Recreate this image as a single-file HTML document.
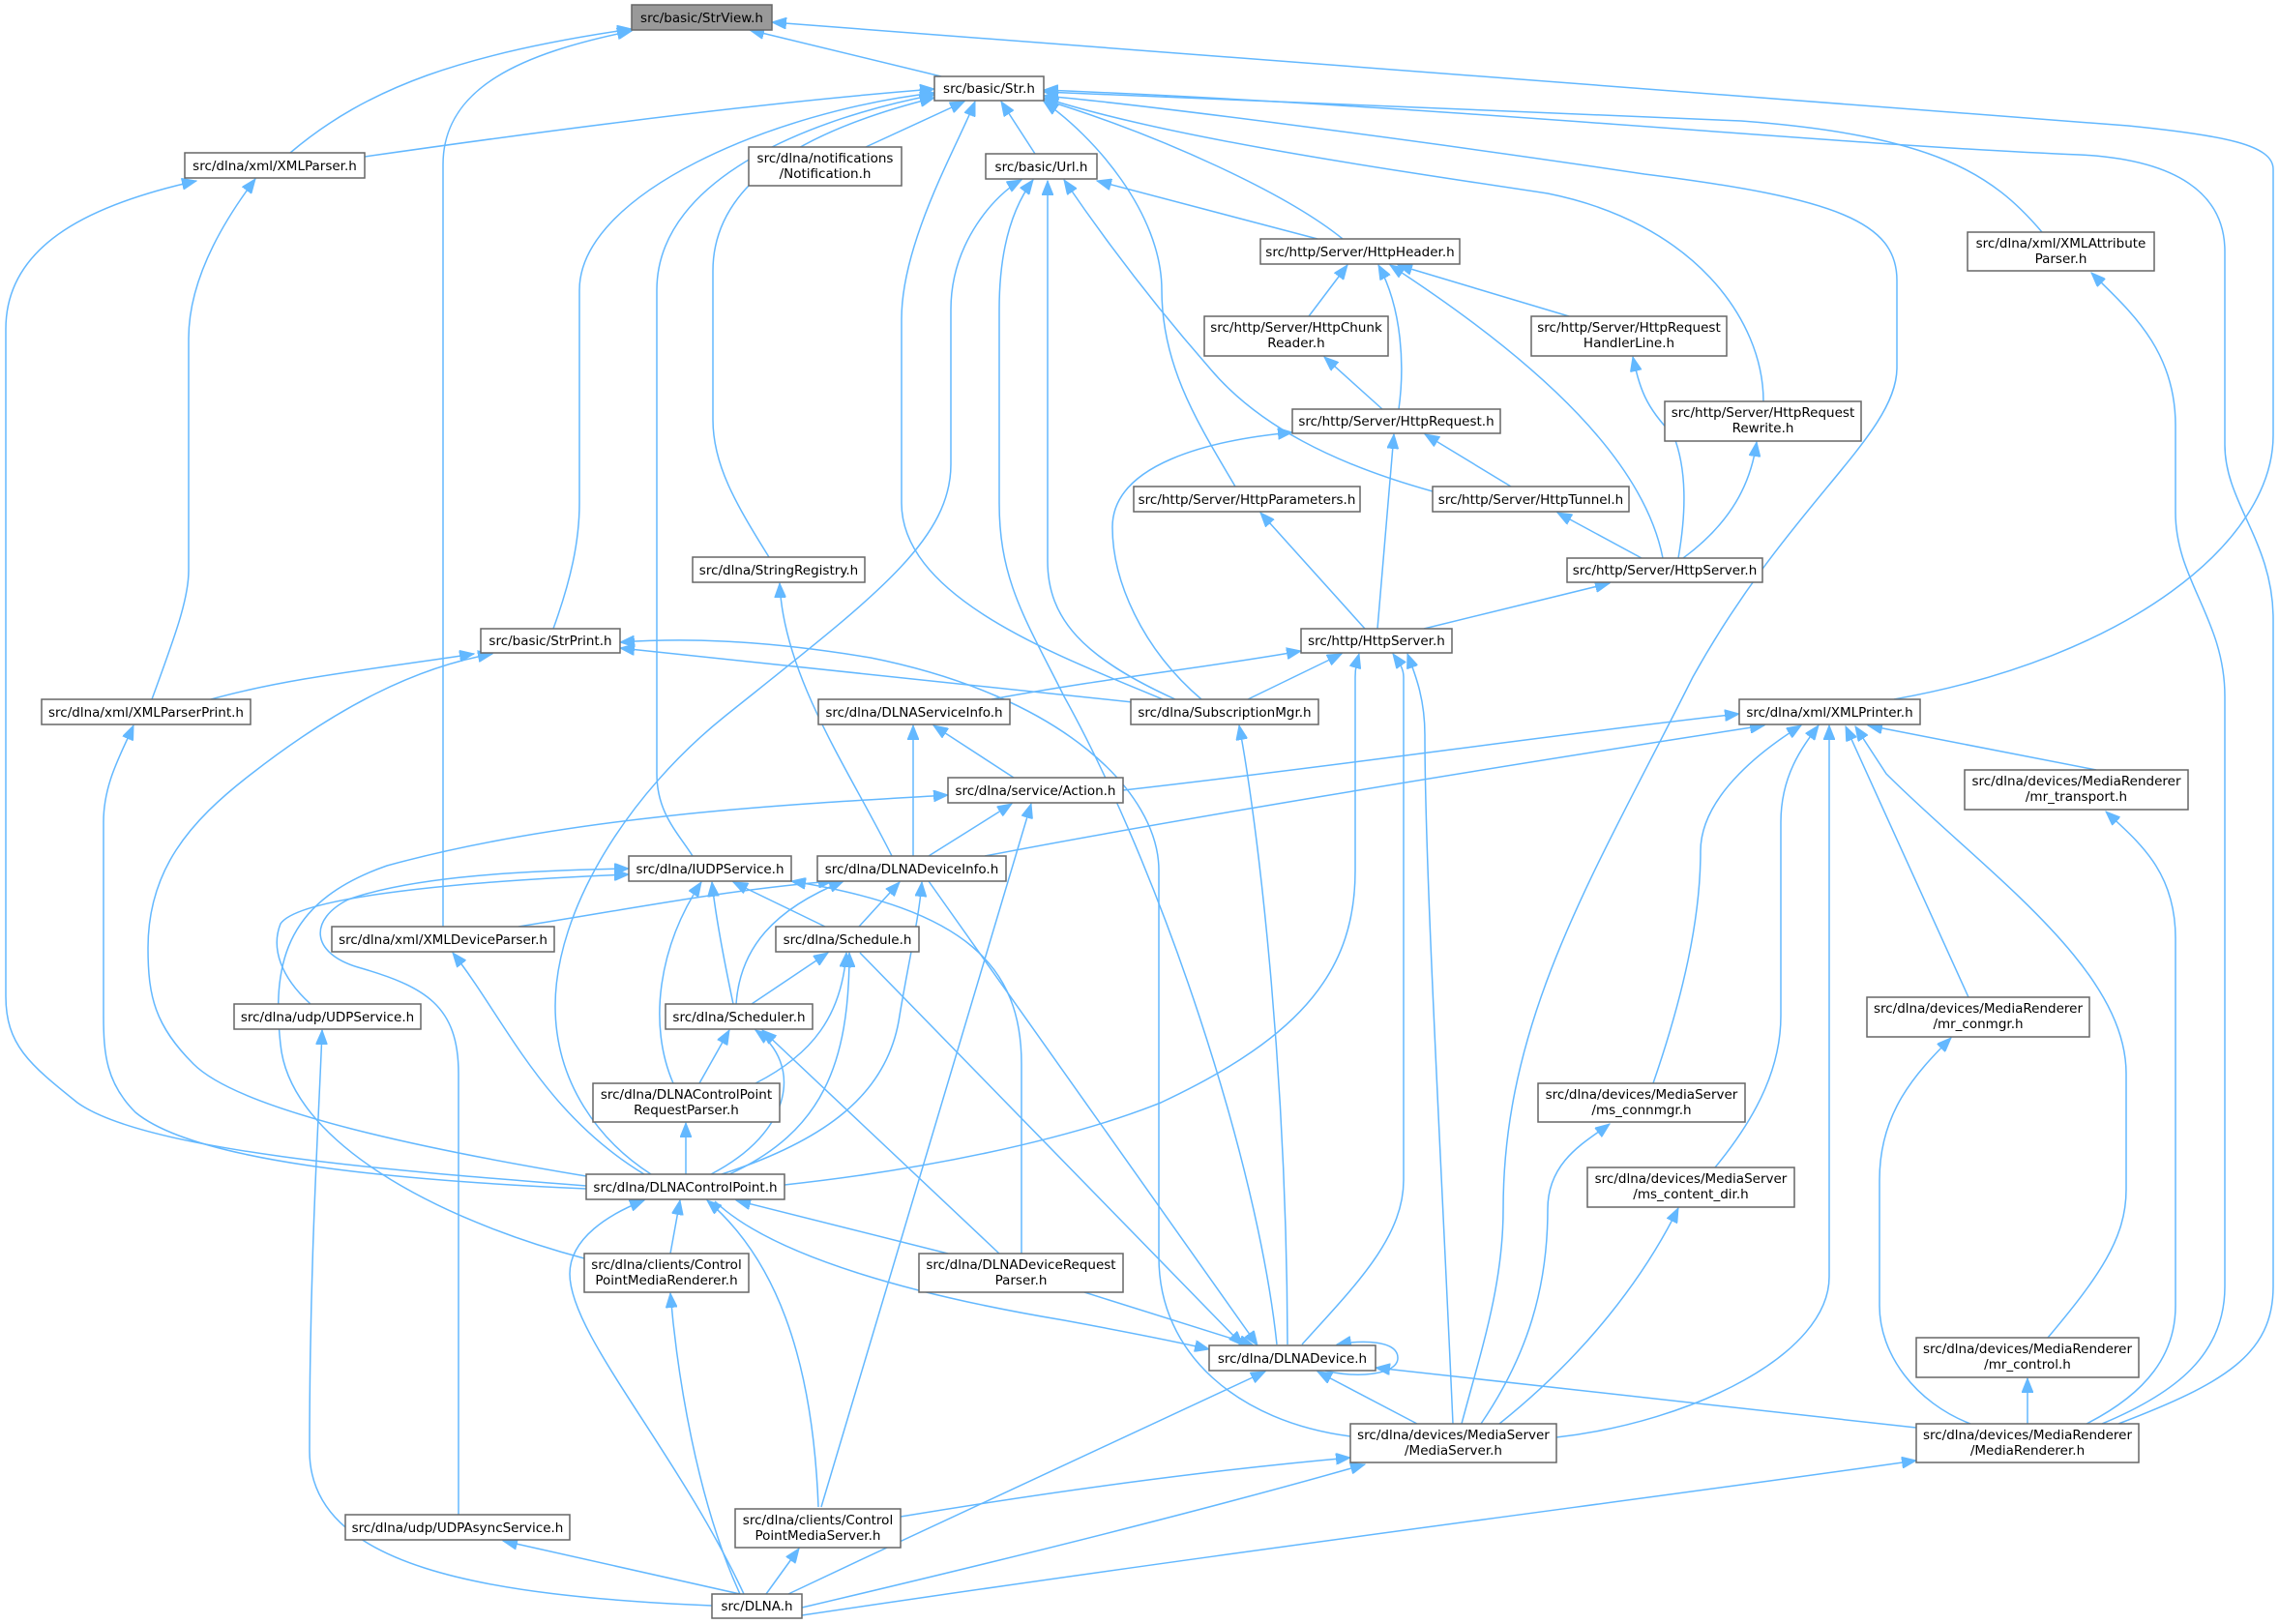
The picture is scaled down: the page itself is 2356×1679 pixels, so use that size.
<!DOCTYPE html>
<html><head><meta charset="utf-8"><style>
html,body{margin:0;padding:0;background:#fff;}
svg{display:block;}
text{font-family:"DejaVu Sans","Liberation Sans",sans-serif;font-size:13.5px;fill:#000;}
.e{fill:none;stroke:#63b8ff;stroke-width:1.5;marker-end:url(#a);}
.n{fill:#fff;stroke:#666;stroke-width:1.5;}
</style></head><body>
<svg width="2356" height="1679" viewBox="0 0 2356 1679" xmlns="http://www.w3.org/2000/svg">
<defs><marker id="a" markerUnits="userSpaceOnUse" markerWidth="16" markerHeight="12" refX="15" refY="6" orient="auto"><path d="M0,0 L15,6 L0,12 Z" fill="#63b8ff" stroke="#63b8ff"/></marker></defs>
<g>
<path class="e" d="M300,158 C380,90 480,55 653,30"/>
<path class="e" d="M458,958 L458,170 C458,90 540,55 653,32"/>
<path class="e" d="M973,79 L775,31"/>
<path class="e" d="M1958,723 C2200,680 2350,560 2350,450 L2350,175 C2350,150 2300,140 2200,130 L798,23"/>
<path class="e" d="M377,162 C600,130 800,105 966,92"/>
<path class="e" d="M572,650 C590,600 599,560 599,520 L599,300 C599,200 800,115 966,96"/>
<path class="e" d="M716,885 C700,860 679,840 679,800 L679,300 C679,180 850,120 966,98"/>
<path class="e" d="M795,576 C760,520 737,480 737,434 L737,280 C737,180 850,130 966,101"/>
<path class="e" d="M895,152 L997,105"/>
<path class="e" d="M1202,723 C1100,680 932,620 932,520 L932,330 C932,250 990,150 1008,105"/>
<path class="e" d="M1070,159 L1035,105"/>
<path class="e" d="M1277,503 C1240,440 1201,380 1201,300 C1201,220 1130,140 1079,105"/>
<path class="e" d="M1388,247 C1330,200 1200,140 1079,103"/>
<path class="e" d="M1823,415 C1823,330 1750,230 1600,200 C1400,170 1200,140 1079,101"/>
<path class="e" d="M1511,1472 C1530,1400 1554,1330 1554,1250 C1554,1050 1650,900 1750,700 C1850,520 1961,450 1961,380 L1961,290 C1961,230 1900,205 1700,180 C1500,150 1200,110 1079,99"/>
<path class="e" d="M2111,240 C2060,180 2000,140 1800,125 L1079,95"/>
<path class="e" d="M2190,1472 C2300,1430 2350,1400 2350,1330 L2350,640 C2350,560 2300,520 2300,460 L2300,260 C2300,200 2250,165 2150,160 C1900,150 1500,110 1079,93"/>
<path class="e" d="M1362,247 L1134,187"/>
<path class="e" d="M1481,508 C1380,480 1300,440 1250,380 C1180,300 1130,230 1100,186"/>
<path class="e" d="M1215,723 C1120,680 1083,640 1083,580 L1083,187"/>
<path class="e" d="M1320,1390 C1300,1200 1200,900 1100,720 C1060,640 1033,600 1033,520 L1033,320 C1033,250 1050,210 1068,186"/>
<path class="e" d="M673,1214 C620,1180 574,1120 574,1040 C574,940 650,820 750,740 C900,620 983,560 983,480 L983,320 C983,250 1030,200 1056,186"/>
<path class="e" d="M1353,327 L1393,274"/>
<path class="e" d="M1446,423 C1452,380 1450,320 1425,274"/>
<path class="e" d="M1622,327 L1445,274"/>
<path class="e" d="M1719,577 C1700,480 1600,380 1437,274"/>
<path class="e" d="M2173,1472 C2250,1440 2300,1400 2300,1330 L2300,720 C2300,640 2249,600 2249,530 L2249,440 C2249,360 2200,320 2162,282"/>
<path class="e" d="M1429,423 L1369,369"/>
<path class="e" d="M1735,577 C1745,520 1742,480 1730,450 C1700,420 1695,400 1688,369"/>
<path class="e" d="M1562,503 L1473,449"/>
<path class="e" d="M1424,650 L1441,449"/>
<path class="e" d="M1242,723 C1180,670 1150,600 1150,545 C1150,480 1250,455 1336,447"/>
<path class="e" d="M1740,577 C1790,540 1810,500 1816,457"/>
<path class="e" d="M1411,650 L1303,530"/>
<path class="e" d="M1697,577 L1610,530"/>
<path class="e" d="M1472,650 L1664,603"/>
<path class="e" d="M1290,723 L1387,676"/>
<path class="e" d="M1025,723 C1150,700 1250,690 1345,673"/>
<path class="e" d="M811,1225 C950,1210 1100,1180 1200,1140 C1350,1070 1401,1000 1401,900 L1401,700 C1401,690 1403,683 1405,676"/>
<path class="e" d="M1346,1390 C1400,1330 1451,1280 1451,1220 L1451,700 C1451,690 1445,683 1440,676"/>
<path class="e" d="M1502,1472 C1490,1200 1473,900 1473,760 C1473,720 1462,695 1455,676"/>
<path class="e" d="M1171,726 L641,670"/>
<path class="e" d="M1331,1390 C1330,1100 1300,850 1281,750"/>
<path class="e" d="M1161,817 C1400,790 1600,760 1798,738"/>
<path class="e" d="M1018,885 C1200,850 1500,800 1824,750"/>
<path class="e" d="M2167,796 L1931,750"/>
<path class="e" d="M1709,1120 C1740,1030 1758,950 1758,880 C1758,820 1830,770 1862,750"/>
<path class="e" d="M1773,1207 C1820,1150 1841,1100 1841,1050 L1841,850 C1841,800 1865,770 1880,750"/>
<path class="e" d="M1609,1486 C1750,1470 1891,1400 1891,1320 L1891,750"/>
<path class="e" d="M2035,1031 L1908,751"/>
<path class="e" d="M2117,1383 C2170,1320 2198,1280 2198,1230 L2198,1110 C2198,1000 2050,900 1950,800 L1918,751"/>
<path class="e" d="M2157,1472 C2220,1440 2249,1400 2249,1350 L2249,970 C2249,900 2210,870 2177,839"/>
<path class="e" d="M2037,1472 C1980,1450 1943,1400 1943,1350 L1943,1220 C1943,1150 1980,1110 2017,1073"/>
<path class="e" d="M2096,1472 L2096,1425"/>
<path class="e" d="M1981,1476 L1422,1414"/>
<path class="e" d="M829,1670 C1300,1600 1700,1550 1981,1510"/>
<path class="e" d="M829,1662 C1050,1610 1250,1560 1411,1514"/>
<path class="e" d="M931,1568 C1100,1540 1250,1520 1396,1507"/>
<path class="e" d="M815,1648 C1000,1560 1200,1470 1308,1418"/>
<path class="e" d="M1465,1472 L1362,1418"/>
<path class="e" d="M1531,1472 C1580,1400 1600,1330 1600,1250 C1600,1200 1640,1180 1664,1162"/>
<path class="e" d="M1550,1472 C1640,1400 1700,1320 1735,1249"/>
<path class="e" d="M1396,1485 C1280,1470 1198,1400 1198,1300 L1198,900 C1198,820 1100,720 900,680 C780,660 700,660 641,664"/>
<path class="e" d="M1121,1336 L1296,1391"/>
<path class="e" d="M739,1242 C800,1300 950,1340 1100,1365 C1170,1378 1220,1388 1250,1395"/>
<path class="e" d="M960,911 L1300,1391"/>
<path class="e" d="M889,985 L1285,1391"/>
<path class="e" d="M1370,1417 C1400,1425 1445,1422 1445,1404 C1445,1386 1410,1385 1382,1390"/>
<path class="e" d="M321,1038 C290,1010 280,980 290,955 C310,925 500,910 650,904"/>
<path class="e" d="M474,1566 L474,1110 C474,1040 440,1020 370,1000 C320,985 320,950 360,930 C430,905 550,900 650,898"/>
<path class="e" d="M758,1038 C750,1000 740,950 736,912"/>
<path class="e" d="M696,1120 C670,1060 680,980 725,912"/>
<path class="e" d="M853,958 L758,912"/>
<path class="e" d="M1056,1296 L1056,1100 C1056,1000 1000,940 818,911"/>
<path class="e" d="M536,958 C650,940 750,920 861,911"/>
<path class="e" d="M761,1038 C765,980 800,940 872,911"/>
<path class="e" d="M888,958 L930,912"/>
<path class="e" d="M746,1214 C850,1180 918,1133 930,1050 C940,990 950,950 953,912"/>
<path class="e" d="M922,885 C880,800 810,700 806,603"/>
<path class="e" d="M944,885 L944,750"/>
<path class="e" d="M1048,804 L965,750"/>
<path class="e" d="M960,885 L1046,831"/>
<path class="e" d="M604,1301 C450,1260 300,1180 290,1080 C280,990 300,930 400,895 C600,840 850,830 980,822"/>
<path class="e" d="M849,1558 L1066,831"/>
<path class="e" d="M777,1038 L856,985"/>
<path class="e" d="M781,1120 C840,1090 870,1050 875,985"/>
<path class="e" d="M754,1214 C850,1170 878,1100 878,985"/>
<path class="e" d="M723,1120 L754,1065"/>
<path class="e" d="M735,1214 C820,1170 830,1100 781,1065"/>
<path class="e" d="M1033,1296 L788,1065"/>
<path class="e" d="M709,1214 L709,1161"/>
<path class="e" d="M666,1214 C560,1150 520,1050 468,985"/>
<path class="e" d="M736,1660 C500,1650 320,1620 320,1500 C320,1300 330,1150 333,1065"/>
<path class="e" d="M765,1648 L520,1593"/>
<path class="e" d="M693,1296 L703,1241"/>
<path class="e" d="M769,1648 C700,1500 589,1380 589,1317 C589,1280 630,1255 666,1241"/>
<path class="e" d="M846,1558 C840,1400 800,1300 731,1241"/>
<path class="e" d="M980,1296 L761,1241"/>
<path class="e" d="M606,1226 C400,1210 150,1190 80,1140 C30,1100 6,1080 6,1030 L6,340 C6,250 100,210 203,187"/>
<path class="e" d="M157,723 C180,660 195,620 195,590 L195,350 C195,290 230,230 264,185"/>
<path class="e" d="M606,1229 C400,1220 200,1200 140,1150 C110,1120 107,1090 107,1050 L107,850 C107,810 125,780 138,750"/>
<path class="e" d="M606,1216 C450,1190 250,1150 200,1100 C160,1060 153,1030 153,980 C153,900 195,850 260,800 C350,730 430,690 509,676"/>
<path class="e" d="M218,723 C300,700 400,690 490,676"/>
<path class="e" d="M792,1648 L826,1601"/>
<path class="e" d="M765,1648 C720,1550 700,1420 693,1337"/>
</g>
<g>
<rect x="653" y="5" width="145" height="26" fill="#999" stroke="#666" stroke-width="1.5"/><text x="725.5" y="23" text-anchor="middle">src/basic/StrView.h</text>
<rect class="n" x="966" y="79" width="113" height="25"/><text x="1022.5" y="96" text-anchor="middle">src/basic/Str.h</text>
<rect class="n" x="191" y="158" width="186" height="26"/><text x="284" y="176" text-anchor="middle">src/dlna/xml/XMLParser.h</text>
<rect class="n" x="774" y="152" width="158" height="40"/><text x="853" y="168" text-anchor="middle">src/dlna/notifications</text><text x="853" y="184" text-anchor="middle">/Notification.h</text>
<rect class="n" x="1019" y="159" width="115" height="26"/><text x="1076.5" y="177" text-anchor="middle">src/basic/Url.h</text>
<rect class="n" x="1303" y="247" width="206" height="26"/><text x="1406" y="265" text-anchor="middle">src/http/Server/HttpHeader.h</text>
<rect class="n" x="2034" y="240" width="193" height="40"/><text x="2130.5" y="256" text-anchor="middle">src/dlna/xml/XMLAttribute</text><text x="2130.5" y="272" text-anchor="middle">Parser.h</text>
<rect class="n" x="1245" y="327" width="190" height="41"/><text x="1340" y="343" text-anchor="middle">src/http/Server/HttpChunk</text><text x="1340" y="359" text-anchor="middle">Reader.h</text>
<rect class="n" x="1583" y="327" width="202" height="41"/><text x="1684" y="343" text-anchor="middle">src/http/Server/HttpRequest</text><text x="1684" y="359" text-anchor="middle">HandlerLine.h</text>
<rect class="n" x="1336" y="423" width="215" height="25"/><text x="1443.5" y="440" text-anchor="middle">src/http/Server/HttpRequest.h</text>
<rect class="n" x="1721" y="415" width="203" height="41"/><text x="1822.5" y="431" text-anchor="middle">src/http/Server/HttpRequest</text><text x="1822.5" y="447" text-anchor="middle">Rewrite.h</text>
<rect class="n" x="1172" y="503" width="234" height="26"/><text x="1289" y="521" text-anchor="middle">src/http/Server/HttpParameters.h</text>
<rect class="n" x="1481" y="503" width="203" height="26"/><text x="1582.5" y="521" text-anchor="middle">src/http/Server/HttpTunnel.h</text>
<rect class="n" x="716" y="576" width="178" height="26"/><text x="805" y="594" text-anchor="middle">src/dlna/StringRegistry.h</text>
<rect class="n" x="1620" y="577" width="202" height="25"/><text x="1721" y="594" text-anchor="middle">src/http/Server/HttpServer.h</text>
<rect class="n" x="497" y="650" width="144" height="25"/><text x="569" y="667" text-anchor="middle">src/basic/StrPrint.h</text>
<rect class="n" x="1345" y="650" width="156" height="25"/><text x="1423" y="667" text-anchor="middle">src/http/HttpServer.h</text>
<rect class="n" x="43" y="723" width="216" height="26"/><text x="151" y="741" text-anchor="middle">src/dlna/xml/XMLParserPrint.h</text>
<rect class="n" x="846" y="723" width="198" height="26"/><text x="945" y="741" text-anchor="middle">src/dlna/DLNAServiceInfo.h</text>
<rect class="n" x="1169" y="723" width="194" height="26"/><text x="1266" y="741" text-anchor="middle">src/dlna/SubscriptionMgr.h</text>
<rect class="n" x="1798" y="723" width="187" height="26"/><text x="1891.5" y="741" text-anchor="middle">src/dlna/xml/XMLPrinter.h</text>
<rect class="n" x="2031" y="796" width="231" height="41"/><text x="2146.5" y="812" text-anchor="middle">src/dlna/devices/MediaRenderer</text><text x="2146.5" y="828" text-anchor="middle">/mr_transport.h</text>
<rect class="n" x="980" y="804" width="181" height="26"/><text x="1070.5" y="822" text-anchor="middle">src/dlna/service/Action.h</text>
<rect class="n" x="650" y="885" width="168" height="26"/><text x="734" y="903" text-anchor="middle">src/dlna/IUDPService.h</text>
<rect class="n" x="845" y="885" width="195" height="26"/><text x="942.5" y="903" text-anchor="middle">src/dlna/DLNADeviceInfo.h</text>
<rect class="n" x="343" y="958" width="230" height="26"/><text x="458" y="976" text-anchor="middle">src/dlna/xml/XMLDeviceParser.h</text>
<rect class="n" x="802" y="958" width="148" height="26"/><text x="876" y="976" text-anchor="middle">src/dlna/Schedule.h</text>
<rect class="n" x="1930" y="1031" width="230" height="41"/><text x="2045" y="1047" text-anchor="middle">src/dlna/devices/MediaRenderer</text><text x="2045" y="1063" text-anchor="middle">/mr_conmgr.h</text>
<rect class="n" x="242" y="1038" width="193" height="26"/><text x="338.5" y="1056" text-anchor="middle">src/dlna/udp/UDPService.h</text>
<rect class="n" x="688" y="1038" width="152" height="26"/><text x="764" y="1056" text-anchor="middle">src/dlna/Scheduler.h</text>
<rect class="n" x="1590" y="1120" width="214" height="40"/><text x="1697" y="1136" text-anchor="middle">src/dlna/devices/MediaServer</text><text x="1697" y="1152" text-anchor="middle">/ms_connmgr.h</text>
<rect class="n" x="613" y="1120" width="193" height="40"/><text x="709.5" y="1136" text-anchor="middle">src/dlna/DLNAControlPoint</text><text x="709.5" y="1152" text-anchor="middle">RequestParser.h</text>
<rect class="n" x="1641" y="1207" width="214" height="41"/><text x="1748" y="1223" text-anchor="middle">src/dlna/devices/MediaServer</text><text x="1748" y="1239" text-anchor="middle">/ms_content_dir.h</text>
<rect class="n" x="606" y="1214" width="205" height="26"/><text x="708.5" y="1232" text-anchor="middle">src/dlna/DLNAControlPoint.h</text>
<rect class="n" x="604" y="1296" width="170" height="40"/><text x="689" y="1312" text-anchor="middle">src/dlna/clients/Control</text><text x="689" y="1328" text-anchor="middle">PointMediaRenderer.h</text>
<rect class="n" x="950" y="1296" width="211" height="40"/><text x="1055.5" y="1312" text-anchor="middle">src/dlna/DLNADeviceRequest</text><text x="1055.5" y="1328" text-anchor="middle">Parser.h</text>
<rect class="n" x="1981" y="1383" width="230" height="41"/><text x="2096" y="1399" text-anchor="middle">src/dlna/devices/MediaRenderer</text><text x="2096" y="1415" text-anchor="middle">/mr_control.h</text>
<rect class="n" x="1250" y="1391" width="172" height="26"/><text x="1336" y="1409" text-anchor="middle">src/dlna/DLNADevice.h</text>
<rect class="n" x="1396" y="1472" width="213" height="40"/><text x="1502.5" y="1488" text-anchor="middle">src/dlna/devices/MediaServer</text><text x="1502.5" y="1504" text-anchor="middle">/MediaServer.h</text>
<rect class="n" x="1981" y="1472" width="230" height="40"/><text x="2096" y="1488" text-anchor="middle">src/dlna/devices/MediaRenderer</text><text x="2096" y="1504" text-anchor="middle">/MediaRenderer.h</text>
<rect class="n" x="760" y="1560" width="171" height="40"/><text x="845.5" y="1576" text-anchor="middle">src/dlna/clients/Control</text><text x="845.5" y="1592" text-anchor="middle">PointMediaServer.h</text>
<rect class="n" x="357" y="1566" width="232" height="26"/><text x="473" y="1584" text-anchor="middle">src/dlna/udp/UDPAsyncService.h</text>
<rect class="n" x="736" y="1648" width="93" height="25"/><text x="782.5" y="1665" text-anchor="middle">src/DLNA.h</text>
</g>
</svg>
</body></html>
